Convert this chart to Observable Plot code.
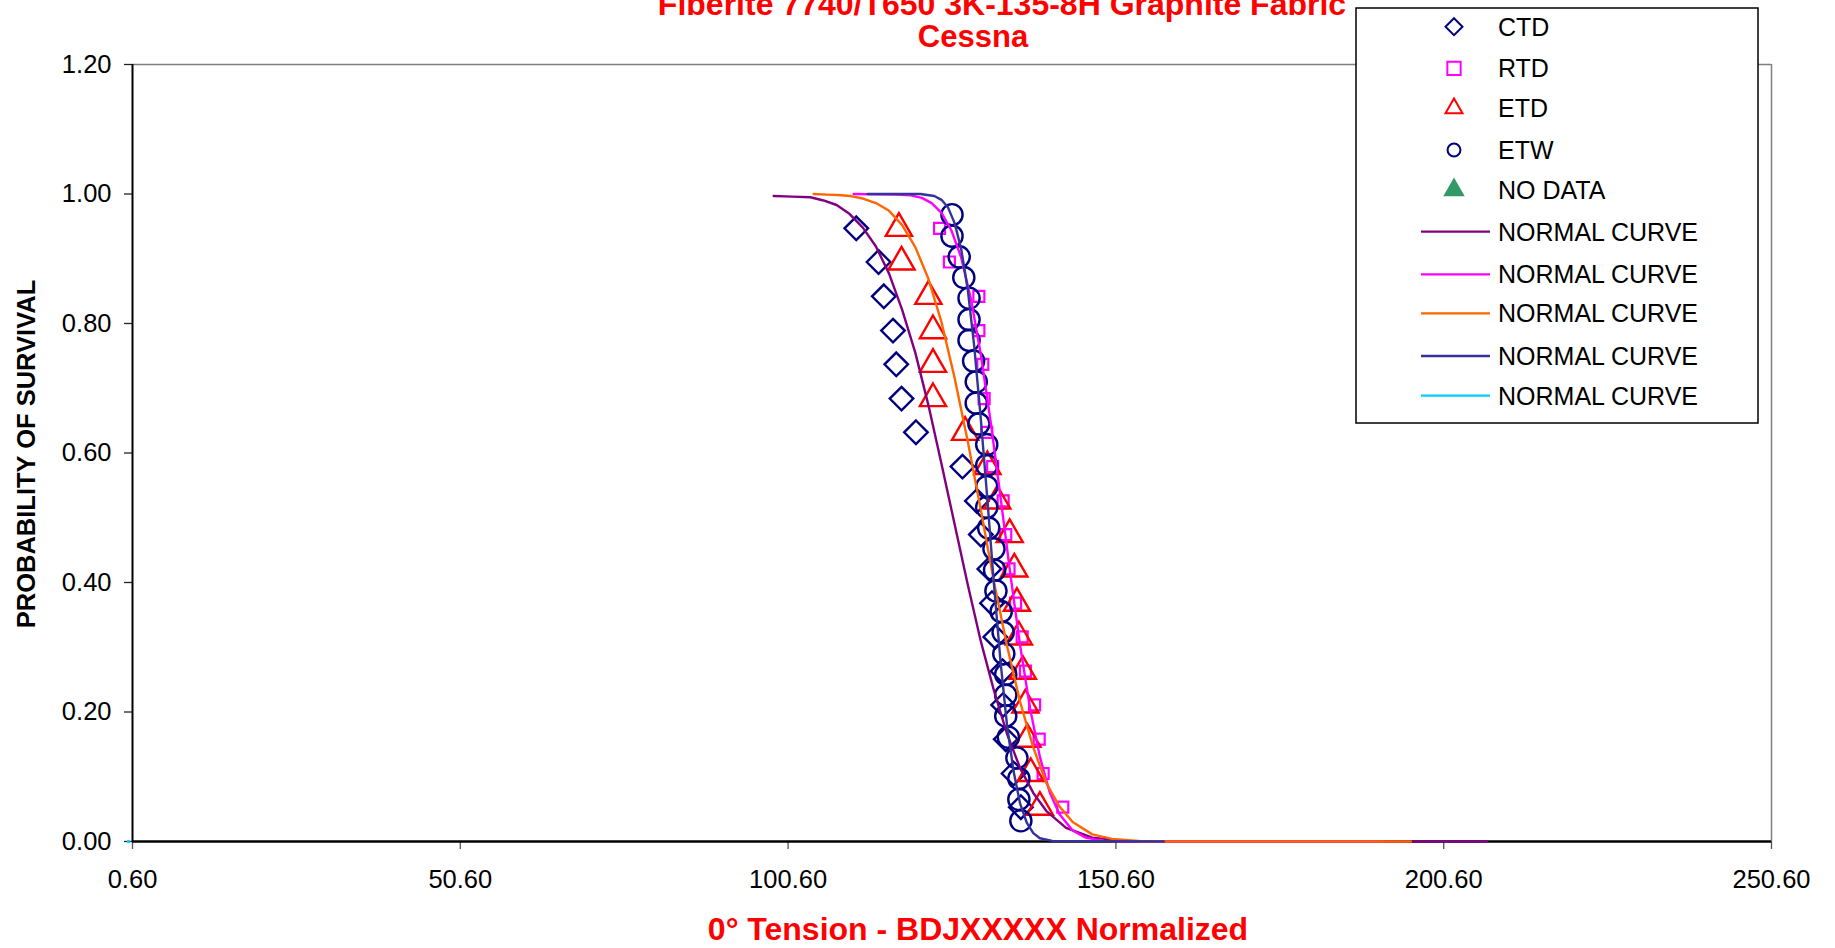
<!DOCTYPE html>
<html>
<head>
<meta charset="utf-8">
<script src="https://cdn.jsdelivr.net/npm/d3@7"></script>
<script src="https://cdn.jsdelivr.net/npm/@observablehq/plot@0.6"></script>
<style>
  html, body { margin: 0; padding: 0; background: #fff; }
  #chart { width: 1835px; height: 948px; }
</style>
</head>
<body>
<div id="chart"></div>
<script>
// ---- Axis ticks ----
const xTicks = [0.6, 50.6, 100.6, 150.6, 200.6, 250.6];
const yTicks = [0, 0.2, 0.4, 0.6, 0.8, 1.0, 1.2];

// ---- Titles / labels ----
const titleLine1 = "Fiberite 7740/T650 3K-135-8H Graphite Fabric";
const titleLine2 = "Cessna";
const xTitle = "0° Tension - BDJXXXXX Normalized";
const yTitle = "PROBABILITY OF SURVIVAL";
const legendLabels = ["CTD", "RTD", "ETD", "ETW", "NO DATA",
  "NORMAL CURVE", "NORMAL CURVE", "NORMAL CURVE", "NORMAL CURVE", "NORMAL CURVE"];

// ---- Measured points (strength, probability of survival) ----
const ctdX = [111.0, 114.4, 115.2, 116.6, 117.1, 117.9, 120.1, 127.2, 129.4, 130.0, 131.3, 131.7, 132.2, 133.3, 133.4, 133.8, 135.0, 136.1];
const ctdY = [0.947, 0.895, 0.842, 0.789, 0.737, 0.684, 0.632, 0.579, 0.526, 0.474, 0.421, 0.368, 0.316, 0.263, 0.211, 0.158, 0.105, 0.053];

const rtdX = [123.7, 125.2, 129.7, 129.7, 130.3, 130.5, 130.9, 131.8, 133.4, 133.8, 134.3, 135.3, 136.3, 136.8, 138.2, 138.9, 139.5, 142.5];
const rtdY = [0.947, 0.895, 0.842, 0.789, 0.737, 0.684, 0.632, 0.579, 0.526, 0.474, 0.421, 0.368, 0.316, 0.263, 0.211, 0.158, 0.105, 0.053];

const etdX = [117.5, 117.9, 122.0, 122.7, 122.7, 122.7, 127.6, 131.0, 132.5, 134.4, 135.1, 135.5, 135.8, 136.4, 136.8, 137.1, 137.6, 139.0];
const etdY = [0.947, 0.895, 0.842, 0.789, 0.737, 0.684, 0.632, 0.579, 0.526, 0.474, 0.421, 0.368, 0.316, 0.263, 0.211, 0.158, 0.105, 0.053];

const etwX = [125.6, 125.6, 126.7, 127.4, 128.2, 128.2, 128.2, 128.9, 129.3, 129.3, 129.7, 130.9, 130.9, 130.9, 130.9, 131.2, 132.0, 132.1, 132.3, 133.1, 133.4, 133.5, 133.8, 133.8, 133.8, 134.2, 135.5, 135.8, 135.8, 136.1];
const etwY = [0.968, 0.935, 0.903, 0.871, 0.839, 0.806, 0.774, 0.742, 0.710, 0.677, 0.645, 0.613, 0.581, 0.548, 0.516, 0.484, 0.452, 0.419, 0.387, 0.355, 0.323, 0.290, 0.258, 0.226, 0.194, 0.161, 0.129, 0.097, 0.065, 0.032];

// ---- Normal curves ----
const curveCtdX = [98.4, 101.2, 104, 106, 108, 110, 112, 114, 116, 118, 120, 122, 124, 126, 128, 130, 132, 134, 136, 138, 140, 143, 147, 152, 160, 207.2];
const curveCtdY = [0.997, 0.996, 0.995, 0.990, 0.983, 0.969, 0.948, 0.919, 0.877, 0.821, 0.755, 0.674, 0.583, 0.490, 0.397, 0.309, 0.233, 0.166, 0.113, 0.075, 0.047, 0.021, 0.006, 0.001, 0, 0];

const curveRtdX = [110.6, 117.2, 119.3, 121, 122.5, 124, 125.5, 127, 128.5, 130, 131.5, 133, 134.5, 136, 137.5, 139, 140.5, 142, 144, 146, 148.7, 152, 191.4];
const curveRtdY = [1.0, 0.999, 0.998, 0.994, 0.986, 0.971, 0.944, 0.902, 0.837, 0.752, 0.648, 0.532, 0.413, 0.302, 0.206, 0.131, 0.076, 0.042, 0.017, 0.006, 0.001, 0, 0];

const curveEtdX = [104.5, 106.5, 108.8, 110, 112, 114, 116, 118, 120, 122, 124, 126, 128, 130, 132, 134, 136, 138, 140, 142, 144, 147, 150, 155, 160, 195.6];
const curveEtdY = [1.0, 0.999, 0.998, 0.997, 0.993, 0.986, 0.974, 0.952, 0.918, 0.869, 0.802, 0.716, 0.618, 0.512, 0.401, 0.302, 0.215, 0.145, 0.090, 0.054, 0.030, 0.011, 0.004, 0, 0, 0];

const curveEtwX = [112.7, 120.8, 122.9, 124, 125, 126, 127, 128, 129, 130, 131, 132, 133, 134, 135, 136, 137, 138, 139, 140.9, 157.9];
const curveEtwY = [1.0, 1.0, 0.997, 0.991, 0.979, 0.955, 0.915, 0.853, 0.764, 0.652, 0.528, 0.397, 0.278, 0.179, 0.108, 0.058, 0.029, 0.013, 0.005, 0.001, 0];

const curveNoDataX = [0.6];
const curveNoDataY = [0];

// ---- Colours ----
const colNavy = "#000080", colMagenta = "#FF00FF", colRed = "#FF0000", colGreen = "#339966";
const colPurple = "#800080", colOrange = "#FF6600", colBlue = "#333399", colCyan = "#00CCFF";

const pts = (xs, ys) => xs.map((x, i) => ({x, y: ys[i]}));

const FONT = "'Liberation Sans', Arial, Helvetica, sans-serif";
const W = 1835, H = 948;
const mL = 132, mR = 64, mT = 64, mB = 107;

const plot = Plot.plot({
  width: W,
  height: H,
  marginLeft: mL,
  marginRight: mR,
  marginTop: mT,
  marginBottom: mB,
  style: {fontFamily: FONT, color: "black", background: "white", overflow: "visible"},
  x: {domain: [0.6, 250.6]},
  y: {domain: [0, 1.2]},
  marks: [
    Plot.ruleY([1.2], {stroke: "#808080", strokeWidth: 1.5}),
    Plot.ruleX([250.6], {stroke: "#808080", strokeWidth: 1.5}),
    Plot.axisX({ticks: xTicks, tickFormat: d => d.toFixed(2), tickSize: 8, tickPadding: 20,
      fontSize: 25.5, label: null, strokeWidth: 1.3, stroke: "#555"}),
    Plot.axisY({ticks: yTicks, tickFormat: d => d.toFixed(2), tickSize: 8, tickPadding: 13,
      fontSize: 25.5, label: null, strokeWidth: 1.3, stroke: "#222"}),
    Plot.ruleX([0.6], {stroke: "black", strokeWidth: 2}),
    Plot.ruleY([0], {stroke: "black", strokeWidth: 2.5}),
    Plot.dot(pts(ctdX, ctdY), {x: "x", y: "y", symbol: "diamond2", r: 10.6, stroke: colNavy, strokeWidth: 2.4, fill: "none"}),
    Plot.dot(pts(rtdX, rtdY), {x: "x", y: "y", symbol: "square2", r: 7, stroke: colMagenta, strokeWidth: 2.2, fill: "none"}),
    Plot.dot(pts(etdX, etdY), {x: "x", y: "y", symbol: "triangle2", r: 12.5, stroke: colRed, strokeWidth: 2.4, fill: "none"}),
    Plot.dot(pts(etwX, etwY), {x: "x", y: "y", symbol: "circle", r: 10.6, stroke: colNavy, strokeWidth: 2.4, fill: "none"}),
    Plot.line(pts(curveCtdX, curveCtdY), {x: "x", y: "y", stroke: colPurple, strokeWidth: 2.4}),
    Plot.line(pts(curveRtdX, curveRtdY), {x: "x", y: "y", stroke: colMagenta, strokeWidth: 2.4}),
    Plot.line(pts(curveEtdX, curveEtdY), {x: "x", y: "y", stroke: colOrange, strokeWidth: 2.4}),
    Plot.line(pts(curveEtwX, curveEtwY), {x: "x", y: "y", stroke: colBlue, strokeWidth: 2.4}),
    Plot.dot(pts(curveNoDataX, curveNoDataY), {x: "x", y: "y", r: 1.8, fill: colCyan, stroke: "none", dx: -4})
  ]
});

document.getElementById("chart").appendChild(plot);

// ---- Titles and legend drawn into the same SVG ----
const svg = d3.select(plot);

svg.append("text")
  .attr("x", 1002).attr("y", 15)
  .attr("text-anchor", "middle")
  .attr("font-family", FONT).attr("font-weight", "bold").attr("font-size", 32)
  .attr("fill", colRed)
  .text(titleLine1);
svg.append("text")
  .attr("x", 973).attr("y", 47)
  .attr("text-anchor", "middle")
  .attr("font-family", FONT).attr("font-weight", "bold").attr("font-size", 31)
  .attr("fill", colRed)
  .text(titleLine2);

svg.append("text")
  .attr("x", 978).attr("y", 940)
  .attr("text-anchor", "middle")
  .attr("font-family", FONT).attr("font-weight", "bold").attr("font-size", 32)
  .attr("fill", colRed)
  .text(xTitle);

svg.append("text")
  .attr("transform", "translate(35,454) rotate(-90)")
  .attr("text-anchor", "middle")
  .attr("font-family", FONT).attr("font-weight", "bold").attr("font-size", 25.5)
  .attr("fill", "black")
  .text(yTitle);

// Legend
const lg = svg.append("g").attr("text-anchor", "start");
lg.append("rect")
  .attr("x", 1356).attr("y", 8).attr("width", 402).attr("height", 415)
  .attr("fill", "white").attr("stroke", "black").attr("stroke-width", 1.5);

const rowY = [26.7, 68.3, 108.3, 150, 190, 231.7, 274.3, 313.3, 356, 395.7];
const markerX = 1454, textX = 1498;
const symSpecs = [
  {type: d3.symbolDiamond2, size: 184, stroke: colNavy, fill: "none"},
  {type: d3.symbolSquare2, size: 225, stroke: colMagenta, fill: "none"},
  {type: d3.symbolTriangle2, size: 206, stroke: colRed, fill: "none"},
  {type: d3.symbolCircle, size: 130, stroke: colNavy, fill: "none"},
  {type: d3.symbolTriangle, size: 200, stroke: "none", fill: colGreen}
];
symSpecs.forEach((s, i) => {
  lg.append("path")
    .attr("d", d3.symbol().type(s.type).size(s.size)())
    .attr("transform", `translate(${markerX},${rowY[i]})`)
    .attr("fill", s.fill).attr("stroke", s.stroke).attr("stroke-width", 2);
});
const lineCols = [colPurple, colMagenta, colOrange, colBlue, colCyan];
lineCols.forEach((c, j) => {
  lg.append("line")
    .attr("x1", 1421).attr("x2", 1490)
    .attr("y1", rowY[5 + j]).attr("y2", rowY[5 + j])
    .attr("stroke", c).attr("stroke-width", 2.3);
});
legendLabels.forEach((t, i) => {
  lg.append("text")
    .attr("x", textX).attr("y", rowY[i])
    .attr("dy", "0.36em")
    .attr("text-anchor", "start")
    .attr("font-family", FONT).attr("font-size", 25)
    .attr("fill", "black")
    .text(t);
});
</script>
</body>
</html>
